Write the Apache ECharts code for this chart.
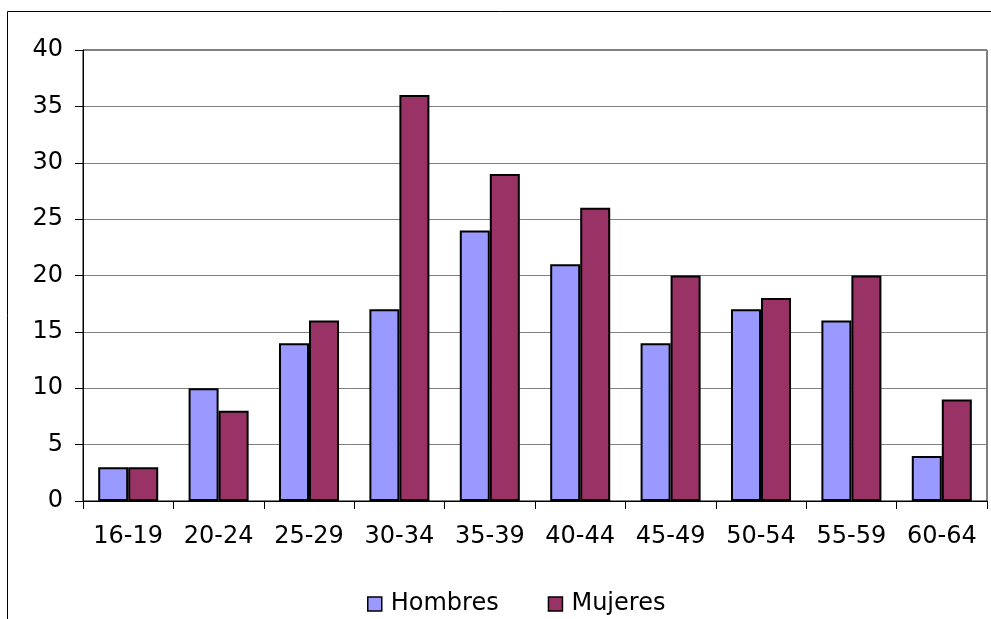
<!DOCTYPE html>
<html>
<head>
<meta charset="utf-8">
<script src="https://cdn.jsdelivr.net/npm/echarts@6/dist/echarts.min.js"></script>
<style>
  html, body { margin: 0; padding: 0; background: #fff; }
  #chart { width: 991px; height: 619px; }
</style>
</head>
<body>
<div id="chart"></div>
<script>
// Age groups on the category axis
const ageGroups = ['16-19', '20-24', '25-29', '30-34', '35-39', '40-44', '45-49', '50-54', '55-59', '60-64'];
// Counts per age group
const hombres = [3, 10, 14, 17, 24, 21, 14, 17, 16, 4];
const mujeres = [3, 8, 16, 36, 29, 26, 20, 18, 20, 9];
const seriesNames = ['Hombres', 'Mujeres'];

const FONT = '"DejaVu Sans", Verdana, sans-serif';
const chart = echarts.init(document.getElementById('chart'), null, { renderer: 'canvas' });

chart.setOption({
  animation: false,
  backgroundColor: '#fff',
  textStyle: { fontFamily: FONT, color: '#000' },
  graphic: [{
    type: 'rect',
    shape: { x: 7.5, y: 11.5, width: 1200, height: 1200 },
    style: { fill: 'none', stroke: '#000', lineWidth: 1 },
    silent: true,
    z: -1
  }],
  grid: {
    left: 83, top: 50, right: 4, bottom: 118,
    show: true, borderColor: '#000', borderWidth: 1,
    backgroundColor: 'transparent'
  },
  legend: {
    data: seriesNames,
    top: 587,
    left: 362,
    icon: 'rect',
    itemWidth: 14,
    itemHeight: 14,
    itemGap: 49,
    itemStyle: { borderColor: '#000', borderWidth: 1.5 },
    textStyle: { fontFamily: FONT, fontSize: 24, color: '#000', padding: [0, 0, 0, 4] }
  },
  xAxis: {
    type: 'category',
    data: ageGroups,
    axisLine: { show: true, lineStyle: { color: '#000', width: 1 } },
    axisTick: { show: true, length: 8, alignWithLabel: false, lineStyle: { color: '#000' } },
    axisLabel: { fontFamily: FONT, fontSize: 24, color: '#000', margin: 24, interval: 0 },
    splitLine: { show: false }
  },
  yAxis: {
    type: 'value',
    min: 0, max: 40, interval: 5,
    axisLine: { show: true, lineStyle: { color: '#000', width: 1 } },
    axisTick: { show: true, length: 8, lineStyle: { color: '#000' } },
    axisLabel: { fontFamily: FONT, fontSize: 24, color: '#000', margin: 20 },
    splitLine: { show: true, lineStyle: { color: '#808080', width: 1 } }
  },
  series: [
    {
      name: seriesNames[0],
      type: 'bar',
      data: hombres,
      barGap: '0%',
      barCategoryGap: '33.6%',
      itemStyle: { color: '#9999FF', borderColor: '#000', borderWidth: 2 }
    },
    {
      name: seriesNames[1],
      type: 'bar',
      data: mujeres,
      barGap: '0%',
      barCategoryGap: '33.6%',
      itemStyle: { color: '#993366', borderColor: '#000', borderWidth: 2 }
    }
  ]
});
</script>
</body>
</html>
